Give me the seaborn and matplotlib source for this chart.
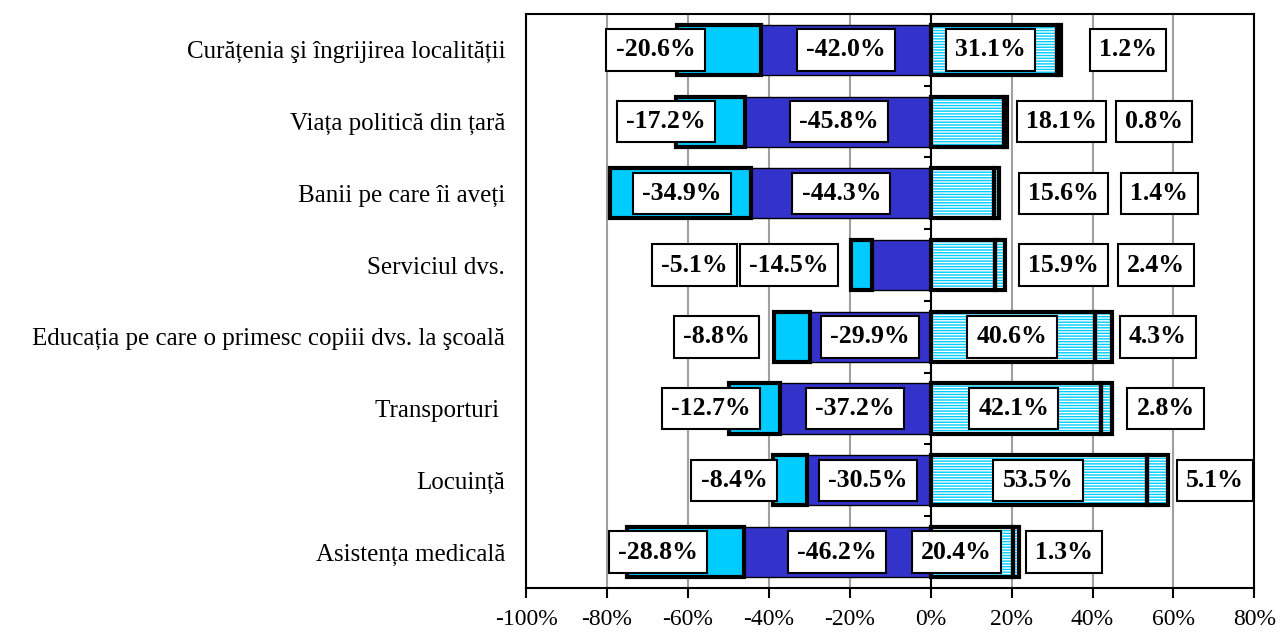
import numpy as np
import pandas as pd
import matplotlib
matplotlib.use("Agg")
import matplotlib.pyplot as plt
import seaborn as sns

# categories top to bottom
categories = [
    "Curățenia şi îngrijirea localității",
    "Viața politică din țară",
    "Banii pe care îi aveți",
    "Serviciul dvs.",
    "Educația pe care o primesc copiii dvs. la şcoală",
    "Transporturi ",
    "Locuință",
    "Asistența medicală",
]
neg_strong = [20.6, 17.2, 34.9, 5.1, 8.8, 12.7, 8.4, 28.8]   # cyan, outer
neg_mild = [42.0, 45.8, 44.3, 14.5, 29.9, 37.2, 30.5, 46.2]  # dark blue, inner
pos_mild = [31.1, 18.1, 15.6, 15.9, 40.6, 42.1, 53.5, 20.4]  # hatched, inner
pos_strong = [1.2, 0.8, 1.4, 2.4, 4.3, 2.8, 5.1, 1.3]        # hatched, outer

# label box centres (x in %), placed like the original
lbl_neg_strong = [-68, -65.5, -61.5, -58.4, -53, -54.4, -48.6, -67.4]
lbl_neg_mild = [-21, -22.7, -22.1, -35, -15.1, -18.8, -15.5, -23.2]
lbl_pos_mild = [14.7, 32.3, 32.8, 32.8, 20.1, 20.5, 26.5, 6.4]
lbl_pos_strong = [48.8, 55.2, 56.5, 55.7, 56.1, 58.1, 70.3, 32.9]

CYAN = "#00CCFF"
DARK = "#3333CC"

sns.set_theme(style="white")
plt.rcParams["font.family"] = ["Liberation Serif", "DejaVu Serif"]
plt.rcParams["hatch.linewidth"] = 1.0
for key in ["text.color", "axes.labelcolor", "xtick.color", "ytick.color"]:
    plt.rcParams[key] = "black"

fig, ax = plt.subplots(figsize=(12.8, 6.37), dpi=100)
fig.subplots_adjust(left=0.411, right=0.98, top=0.978, bottom=0.077)

neg_m = -np.array(neg_mild)
neg_s = -np.array(neg_strong)
pos_m = np.array(pos_mild)
pos_s = np.array(pos_strong)

common = dict(y=categories, orient="h", width=0.7, errorbar=None,
              saturation=1, ax=ax)

# negative side
sns.barplot(x=neg_m, color=DARK, edgecolor="black", linewidth=1, **common)
sns.barplot(x=neg_s, left=neg_m, color=CYAN, edgecolor="black",
            linewidth=3, **common)

# positive side: hatched fill, then black outline
sns.barplot(x=pos_m, color=CYAN, edgecolor="white", linewidth=0,
            hatch="------", **common)
sns.barplot(x=pos_s, left=pos_m, color=CYAN, edgecolor="white", linewidth=0,
            hatch="------", **common)
sns.barplot(x=pos_m, color="black", fill=False, linewidth=3, **common)
sns.barplot(x=pos_s, left=pos_m, color="black", fill=False, linewidth=3,
            **common)

ax.set_xlim(-100, 80)
ax.set_ylim(len(categories) - 0.5, -0.5)
ax.set_xticks(np.arange(-100, 81, 20))
ax.set_xticklabels([f"{t}%" for t in range(-100, 81, 20)])
ax.set_xlabel("")
ax.set_ylabel("")

ax.set_axisbelow(True)
ax.grid(axis="x", color="#a0a0a0", linewidth=1.5)
ax.grid(axis="y", visible=False)
ax.axvline(0, color="black", linewidth=1.5, zorder=3)
bounds = np.arange(len(categories) + 1) - 0.5
ax.hlines(bounds, -1.6, 0, color="black", linewidth=1.5, zorder=3)

for sp in ax.spines.values():
    sp.set_visible(True)
    sp.set_color("black")
    sp.set_linewidth(1.5)

ax.tick_params(axis="x", direction="out", length=7, width=1.5, color="black",
               labelsize=17, pad=8, bottom=True)
ax.tick_params(axis="y", length=0, labelsize=18, pad=15)

box = dict(boxstyle="square,pad=0.36", facecolor="white", edgecolor="black",
           linewidth=1.5)
label_sets = [
    (lbl_neg_strong, neg_s),
    (lbl_neg_mild, neg_m),
    (lbl_pos_mild, pos_m),
    (lbl_pos_strong, pos_s),
]
for xs, vals in label_sets:
    for i, (x, v) in enumerate(zip(xs, vals)):
        ax.text(x, i, f"{v:.1f}%", ha="center", va="center", fontsize=18.5,
                fontweight="bold", bbox=box, zorder=6)

fig.savefig("out.png", dpi=100)
